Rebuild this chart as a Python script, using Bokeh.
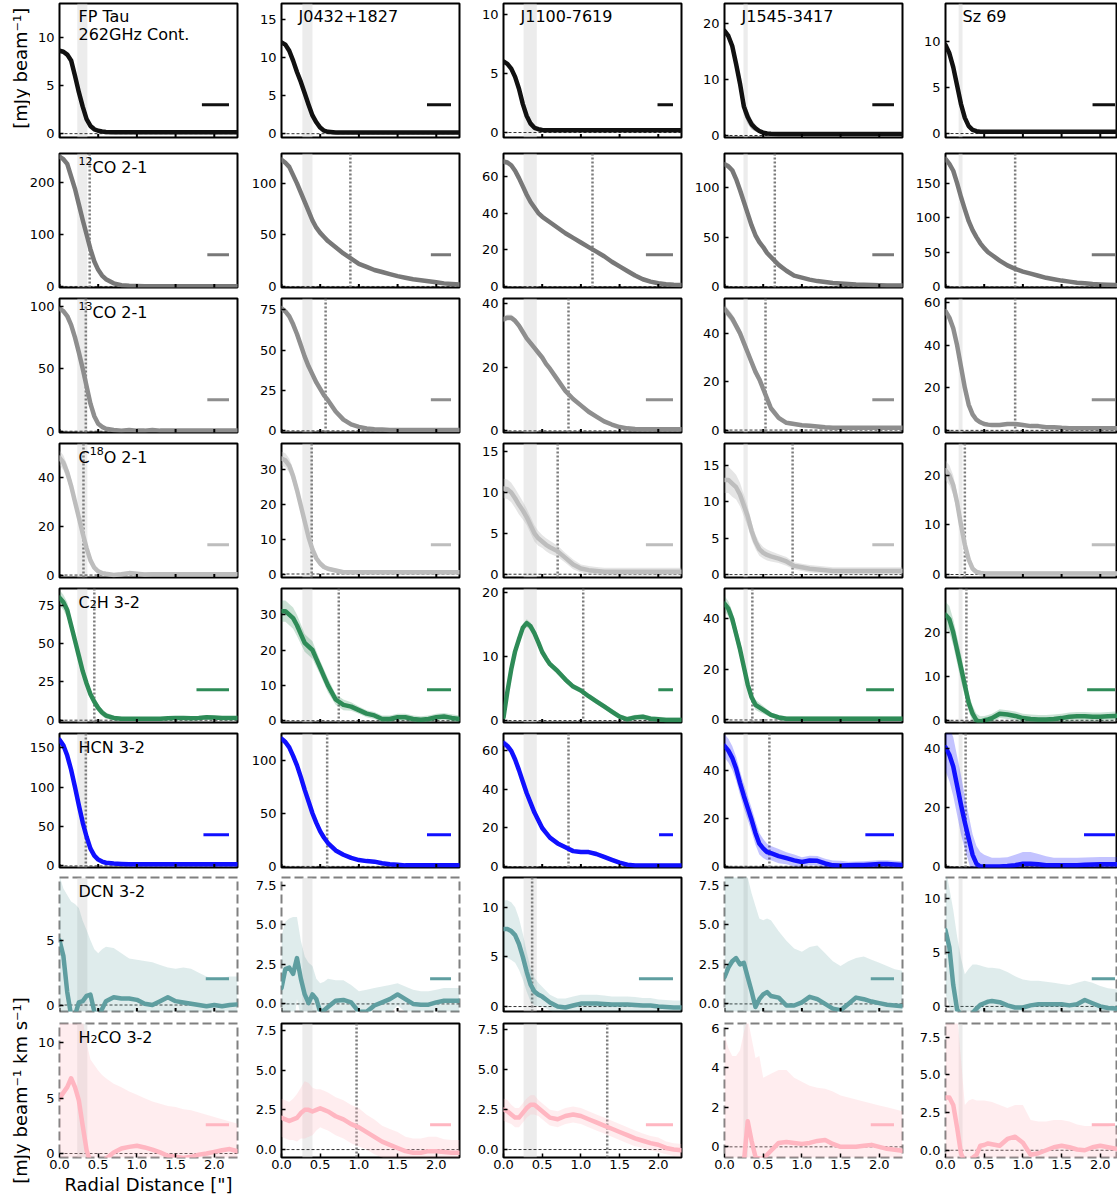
import math
from bokeh.plotting import figure
from bokeh.layouts import row, column
from bokeh.models import (Range1d, Label, Span, BoxAnnotation, FixedTicker,
                          PrintfTickFormatter)
from bokeh.embed import file_html
from bokeh.resources import INLINE

# ---------------- data ----------------
R = [0.0, 0.05, 0.1, 0.15, 0.2, 0.25, 0.3, 0.35, 0.4, 0.45, 0.5, 0.55, 0.6,
     0.7, 0.8, 0.9, 1.0, 1.1, 1.2, 1.3, 1.4, 1.5, 1.6, 1.7, 1.8, 1.9, 2.0, 2.1, 2.2, 2.3]
XTICKS = [0.0, 0.5, 1.0, 1.5, 2.0]

TARGETS = ["FP Tau", "J0432+1827", "J1100-7619", "J1545-3417", "Sz 69"]
# line names as (text, style) pieces: n = normal, sup = superscript, sub = subscript
LINES = [
    [("262GHz Cont.", "n")],
    [("12", "sup"), ("CO 2-1", "n")],
    [("13", "sup"), ("CO 2-1", "n")],
    [("C", "n"), ("18", "sup"), ("O 2-1", "n")],
    [("C", "n"), ("2", "sub"), ("H 3-2", "n")],
    [("HCN 3-2", "n")],
    [("DCN 3-2", "n")],
    [("H", "n"), ("2", "sub"), ("CO 3-2", "n")],
]

CONT_Y = [
    [8.6, 8.5, 8.2, 7.6, 6.0, 4.3, 2.8, 1.5, 0.8, 0.45, 0.3, 0.22, 0.18,
     0.15, 0.15, 0.15, 0.15, 0.15, 0.15, 0.15, 0.15, 0.15, 0.15, 0.15, 0.15, 0.15, 0.15, 0.15, 0.15, 0.15],
    [12.0, 11.7, 10.9, 9.6, 8.1, 6.8, 5.3, 3.8, 2.4, 1.5, 0.8, 0.4, 0.25,
     0.15, 0.15, 0.15, 0.15, 0.15, 0.15, 0.15, 0.15, 0.15, 0.15, 0.15, 0.15, 0.15, 0.15, 0.15, 0.15, 0.15],
    [6.0, 5.8, 5.4, 4.7, 3.7, 2.4, 1.4, 0.75, 0.4, 0.28, 0.22, 0.2, 0.2,
     0.2, 0.2, 0.2, 0.2, 0.2, 0.2, 0.2, 0.2, 0.2, 0.2, 0.2, 0.2, 0.2, 0.2, 0.2, 0.2, 0.2],
    [18.7, 17.8, 16.0, 12.8, 9.3, 5.2, 3.3, 2.0, 1.3, 0.8, 0.5, 0.35, 0.3,
     0.25, 0.25, 0.25, 0.25, 0.25, 0.25, 0.25, 0.25, 0.25, 0.25, 0.25, 0.25, 0.25, 0.25, 0.25, 0.25, 0.25],
    [9.6, 8.7, 7.2, 5.2, 3.2, 1.7, 0.8, 0.4, 0.25, 0.2, 0.2, 0.2, 0.2,
     0.2, 0.2, 0.2, 0.2, 0.2, 0.2, 0.2, 0.2, 0.2, 0.2, 0.2, 0.2, 0.2, 0.2, 0.2, 0.2, 0.2],
]
CONT_E = [
    [0.2, 0.2, 0.2, 0.3, 0.3, 0.3, 0.3, 0.2, 0.2, 0.1, 0.1, 0.05, 0.05,
     0.05, 0.05, 0.05, 0.05, 0.05, 0.05, 0.05, 0.05, 0.05, 0.05, 0.05, 0.05, 0.05, 0.05, 0.05, 0.05, 0.05],
    [0.2, 0.2, 0.2, 0.3, 0.3, 0.3, 0.3, 0.2, 0.2, 0.1, 0.1, 0.05, 0.05,
     0.05, 0.05, 0.05, 0.05, 0.05, 0.05, 0.05, 0.05, 0.05, 0.05, 0.05, 0.05, 0.05, 0.05, 0.05, 0.05, 0.05],
    [0.15, 0.15, 0.15, 0.2, 0.2, 0.2, 0.2, 0.1, 0.1, 0.05, 0.05, 0.05, 0.05,
     0.05, 0.05, 0.05, 0.05, 0.05, 0.05, 0.05, 0.05, 0.05, 0.05, 0.05, 0.05, 0.05, 0.05, 0.05, 0.05, 0.05],
    [0.6, 0.7, 0.9, 1.2, 1.5, 1.4, 1.2, 0.9, 0.6, 0.4, 0.3, 0.2, 0.1,
     0.05, 0.05, 0.05, 0.05, 0.05, 0.05, 0.05, 0.05, 0.05, 0.05, 0.05, 0.05, 0.05, 0.05, 0.05, 0.05, 0.05],
    [0.3, 0.3, 0.3, 0.35, 0.4, 0.35, 0.3, 0.2, 0.1, 0.05, 0.05, 0.05, 0.05,
     0.05, 0.05, 0.05, 0.05, 0.05, 0.05, 0.05, 0.05, 0.05, 0.05, 0.05, 0.05, 0.05, 0.05, 0.05, 0.05, 0.05],
]

CO12_Y = [
    [250, 245, 236, 212, 188, 158, 128, 100, 72, 48, 32, 21, 14,
     6, 2.5, 1.2, 0.8, 0.6, 0.5, 0.5, 0.5, 0.5, 0.5, 0.5, 0.5, 0.5, 0.5, 0.5, 0.5, 0.5],
    [123, 120, 116, 108, 100, 91, 82, 73, 64, 57, 52, 48, 44,
     38, 32, 27, 22, 19, 16, 14, 12, 10, 8.5, 7, 6, 5, 4, 3, 2.5, 2],
    [68, 67.5, 66, 63, 59, 54.5, 50, 46, 43, 40, 38, 36.5, 35,
     32, 29, 26.5, 24, 21.5, 19, 16.5, 13.5, 11, 8.5, 6, 4, 2.7, 1.8, 1.3, 1.0, 0.8],
    [124, 122, 118, 109, 98, 86, 74, 62, 52, 45, 40, 34, 30,
     22, 16, 11, 9, 7, 5.5, 4.5, 3.5, 3, 2.5, 2, 1.8, 1.5, 1.3, 1.1, 1, 1],
    [185, 178, 168, 150, 130, 112, 95, 82, 72, 63, 56, 50, 46,
     38, 31, 26, 22, 19, 16, 13, 11, 9, 7.5, 6, 5, 4, 3.5, 3, 2.5, 2],
]
CO12_E = [
    [4, 4, 4, 4, 4, 4, 4, 3, 3, 3, 3, 2, 2,
     2, 1, 1, 1, 1, 1, 1, 1, 1, 1, 1, 1, 1, 1, 1, 1, 1],
    [2, 2, 2, 2, 2, 2, 2, 2, 2, 2, 2, 2, 1.5,
     1.5, 1.5, 1.5, 1.5, 1.5, 1, 1, 1, 1, 1, 1, 1, 1, 1, 1, 1, 1],
    [1.5, 1.5, 1.5, 1.5, 1.5, 1.5, 1.5, 1.5, 1.5, 1.5, 1.5, 1.5, 1,
     1, 1, 1, 1, 1, 1, 1, 1, 1, 1, 1, 1, 1, 1, 1, 1, 1],
    [3, 3, 3, 3, 3, 3, 3, 3, 3, 3, 3, 3, 3,
     2, 2, 1.5, 1.5, 1.5, 1, 1, 1, 1, 1, 1, 1, 1, 1, 1, 1, 1],
    [3, 3, 3, 3, 3, 3, 3, 2, 2, 2, 2, 2, 2,
     2, 1.5, 1.5, 1.5, 1.5, 1, 1, 1, 1, 1, 1, 1, 1, 1, 1, 1, 1],
]

CO13_Y = [
    [98, 96, 92, 85, 75, 63, 50, 36, 22, 12, 6, 3.5, 2,
     1, 0.5, 1, 0.5, 0.5, 1, 0.5, 0.5, 0.5, 0.5, 0.5, 0.5, 0.5, 0.5, 0.5, 0.5, 0.5],
    [76, 74, 71, 66, 60, 53, 46, 40, 35, 30, 26, 22, 19,
     12, 7, 4, 2.5, 1.5, 1, 0.8, 0.6, 0.5, 0.5, 0.5, 0.5, 0.5, 0.5, 0.5, 0.5, 0.5],
    [35, 35.5, 35.5, 34.5, 33, 31, 29, 27.5, 26, 24.5, 23, 21, 19.5,
     16, 12.5, 10, 8, 6, 4.5, 3, 2, 1.2, 0.8, 0.6, 0.5, 0.5, 0.5, 0.5, 0.5, 0.5],
    [50, 48, 46, 43, 40, 36, 32, 28, 24, 21, 17, 13, 9,
     5, 3, 2.5, 2, 1.8, 1.5, 1.2, 1, 1, 1, 1, 1, 1, 1, 1, 1, 1],
    [56, 53, 48, 40, 30, 20, 12, 7.5, 5, 3.8, 3, 2.7, 2.5,
     2.5, 3, 3, 2.5, 2, 2, 1.5, 1.5, 1.2, 1, 1, 1, 1, 1, 1, 1, 1],
]
CO13_E = [
    [2, 2, 2, 2, 2, 2, 2, 2, 1.5, 1.2, 1, 0.8, 0.8,
     0.5, 0.5, 0.5, 0.5, 0.5, 0.5, 0.5, 0.5, 0.5, 0.5, 0.5, 0.5, 0.5, 0.5, 0.5, 0.5, 0.5],
    [1.5, 1.5, 1.5, 1.5, 1.5, 1.5, 1.5, 1.5, 1.2, 1.1, 1, 1, 1,
     0.8, 0.5, 0.5, 0.5, 0.5, 0.5, 0.5, 0.5, 0.5, 0.5, 0.5, 0.5, 0.5, 0.5, 0.5, 0.5, 0.5],
    [1, 1, 1, 1, 1, 1, 1, 1, 1, 1, 1, 1, 0.8,
     0.8, 0.8, 0.6, 0.6, 0.5, 0.5, 0.5, 0.5, 0.5, 0.5, 0.5, 0.5, 0.5, 0.5, 0.5, 0.5, 0.5],
    [2, 2, 2, 2, 2, 2, 2, 2, 2, 1.8, 1.5, 1.2, 1,
     1, 0.8, 0.8, 0.5, 0.5, 0.5, 0.5, 0.5, 0.5, 0.5, 0.5, 0.5, 0.5, 0.5, 0.5, 0.5, 0.5],
    [2, 2, 2, 2, 2, 1.8, 1.5, 1.2, 1, 1, 1, 0.9, 0.8,
     0.8, 0.8, 0.8, 0.8, 0.6, 0.6, 0.6, 0.6, 0.6, 0.6, 0.6, 0.6, 0.6, 0.6, 0.6, 0.6, 0.6],
]

C18O_Y = [
    [48, 46, 42, 36.5, 30, 23.5, 17, 11, 6, 3, 1.5, 0.8, 0.5,
     0, 0.3, 0.8, 0.5, 0.2, 0.3, 0.3, 0.3, 0.3, 0.3, 0.3, 0.3, 0.3, 0.3, 0.3, 0.3, 0.3],
    [33, 32.5, 31, 28, 24, 19.5, 15, 10.5, 7, 4.5, 3, 2, 1.5,
     1, 0.5, 0.5, 0.5, 0.5, 0.5, 0.5, 0.5, 0.5, 0.5, 0.5, 0.5, 0.5, 0.5, 0.5, 0.5, 0.5],
    [10.5, 10.4, 10, 9.3, 8.5, 7.8, 7, 6, 5, 4.4, 4, 3.6, 3.3,
     2.8, 2, 1.2, 0.7, 0.5, 0.4, 0.3, 0.3, 0.3, 0.3, 0.3, 0.3, 0.3, 0.3, 0.3, 0.3, 0.3],
    [13, 13, 12.5, 12, 11, 9.5, 8, 6, 4.5, 3.5, 3, 2.7, 2.5,
     2.2, 1.8, 1.2, 1, 0.8, 0.7, 0.6, 0.5, 0.5, 0.5, 0.5, 0.5, 0.5, 0.5, 0.5, 0.5, 0.5],
    [21, 20, 18, 14.5, 10, 6, 3, 1.2, 0.5, 0.3, 0.2, 0.2, 0.2,
     0.2, 0.2, 0.2, 0.2, 0.2, 0.2, 0.2, 0.2, 0.2, 0.2, 0.2, 0.2, 0.2, 0.2, 0.2, 0.2, 0.2],
]
C18O_E = [
    [3, 3, 3, 2.8, 2.5, 2.2, 2, 1.8, 1.5, 1.2, 1, 0.9, 0.8,
     0.8, 0.8, 0.8, 0.8, 0.8, 0.8, 0.8, 0.8, 0.8, 0.8, 0.8, 0.8, 0.8, 0.8, 0.8, 0.8, 0.8],
    [2, 2, 2, 2, 2, 1.8, 1.5, 1.2, 1, 0.9, 0.8, 0.7, 0.6,
     0.6, 0.6, 0.6, 0.6, 0.6, 0.6, 0.6, 0.6, 0.6, 0.6, 0.6, 0.6, 0.6, 0.6, 0.6, 0.6, 0.6],
    [1.2, 1.2, 1.2, 1.2, 1.2, 1.1, 1, 1, 1, 0.9, 0.8, 0.8, 0.8,
     0.7, 0.6, 0.6, 0.5, 0.5, 0.5, 0.5, 0.5, 0.5, 0.5, 0.5, 0.5, 0.5, 0.5, 0.5, 0.5, 0.5],
    [1.8, 1.8, 1.8, 1.7, 1.6, 1.5, 1.4, 1.2, 1, 0.9, 0.8, 0.75, 0.7,
     0.6, 0.6, 0.5, 0.5, 0.5, 0.5, 0.5, 0.5, 0.5, 0.5, 0.5, 0.5, 0.5, 0.5, 0.5, 0.5, 0.5],
    [2, 2, 2, 1.8, 1.5, 1.2, 1, 0.7, 0.5, 0.45, 0.4, 0.4, 0.4,
     0.4, 0.4, 0.4, 0.4, 0.4, 0.4, 0.4, 0.4, 0.4, 0.4, 0.4, 0.4, 0.4, 0.4, 0.4, 0.4, 0.4],
]

C2H_Y = [
    [80, 77, 72, 62, 52, 42, 32, 24, 17, 12, 8, 5, 3,
     1.5, 1, 1, 1, 1, 1, 1, 1.2, 1.5, 1.5, 1.2, 1.5, 2, 1.8, 1.5, 1.5, 1.5],
    [31, 31, 30, 29, 27, 24.5, 22, 21, 20, 17.5, 15, 12.5, 10,
     6, 4.5, 4, 3, 2, 1.5, 0.5, 0.5, 1, 1, 0.5, 0.3, 0.5, 1, 1.2, 0.8, 0.5],
    [0.5, 4.5, 8.0, 10.8, 12.7, 14.5, 15.2, 14.7, 13.6, 12.2, 10.7, 9.7, 8.8,
     7.7, 6.4, 5.3, 4.7, 3.8, 3.0, 2.2, 1.4, 0.6, 0.2, 0.5, 0.6, 0.3, 0.2, 0.1, 0.1, 0.1],
    [46, 44, 40, 34, 28, 21, 14, 9, 6, 5, 4, 3, 2,
     1, 0.5, 0.5, 0.5, 0.5, 0.5, 0.5, 0.5, 0.5, 0.5, 0.5, 0.5, 0.5, 0.5, 0.5, 0.5, 0.5],
    [24, 23, 20, 16, 12, 8, 4, 1.5, 0, -0.3, 0, 0.2, 0.5,
     1.5, 1.3, 1, 0.5, 0.3, 0.2, 0.2, 0.3, 0.5, 0.8, 0.9, 0.9, 0.8, 0.8, 0.9, 1.0, 1.1],
]
C2H_E = [
    [5, 5, 5, 4.5, 4, 3.5, 3, 3, 3, 2.8, 2.5, 2.2, 2,
     1.5, 1.2, 1, 1, 1, 1, 1, 1, 1, 1, 1, 1, 1, 1, 1, 1, 1],
    [3, 3, 3, 3, 3, 2.8, 2.5, 2.5, 2.5, 2.2, 2, 2, 2,
     1.5, 1.5, 1.2, 1, 1, 1, 1, 1, 1, 1, 1, 1, 1, 1, 1, 1, 1],
    [0.6, 0.6, 0.6, 0.6, 0.6, 0.6, 0.6, 0.6, 0.5, 0.5, 0.5, 0.5, 0.5,
     0.5, 0.5, 0.4, 0.4, 0.4, 0.4, 0.4, 0.4, 0.4, 0.4, 0.4, 0.4, 0.4, 0.4, 0.4, 0.4, 0.4],
    [3, 3, 3, 3, 3, 2.5, 2, 2, 2, 1.8, 1.5, 1.2, 1,
     1, 1, 1, 1, 1, 1, 1, 1, 1, 1, 1, 1, 1, 1, 1, 1, 1],
    [3, 3, 3, 3, 3, 2.5, 2, 1.8, 1.5, 1.2, 1, 1, 1,
     1, 1, 1, 1, 1, 1, 1, 1, 1, 1, 1, 1, 1, 1, 1, 1, 1],
]

HCN_Y = [
    [160, 153, 140, 122, 100, 77, 55, 37, 22, 13, 8, 5.5, 4,
     3, 2.5, 2, 2, 2, 2, 2, 2, 2, 2, 2, 2, 2, 2, 2, 2, 2],
    [120, 117, 112, 104, 95, 84, 72, 61, 50, 41, 33, 27, 22,
     15, 11, 8, 6, 5, 4.5, 3, 2, 1.5, 1, 1, 1, 1, 1, 1, 1, 1],
    [64, 62.5, 60, 55.5, 50, 44, 38, 33, 28, 24, 20, 17.5, 15,
     12, 10, 8, 7.5, 7.5, 6.5, 5, 3.5, 2, 1, 0.5, 0.5, 0.5, 0.5, 0.5, 0.5, 0.5],
    [50.5, 48.5, 45.5, 41, 35, 29.5, 24.5, 19.5, 14, 9.5, 7.5, 6, 5.5,
     4.3, 3.4, 2.5, 1.8, 2.4, 2.3, 1.2, 0.4, 0.3, 0.4, 0.5, 0.6, 0.8, 1.0, 1.0, 0.8, 0.6],
    [40.5, 38, 34, 27.5, 21, 15, 9.5, 4, 1, 0, 0, 0, 0,
     0, 0.2, 0.5, 1, 1, 0.8, 0.5, 0.5, 0.5, 0.5, 0.5, 0.6, 0.7, 0.8, 0.8, 0.8, 0.8],
]
HCN_E = [
    [5, 5, 5, 4.5, 4, 3.5, 3, 2.5, 2, 1.8, 1.5, 1.2, 1,
     1, 1, 1, 1, 1, 1, 1, 1, 1, 1, 1, 1, 1, 1, 1, 1, 1],
    [3, 3, 3, 3, 3, 3, 3, 2.8, 2.5, 2.2, 2, 1.8, 1.5,
     1.5, 1, 1, 1, 1, 1, 1, 1, 1, 1, 1, 1, 1, 1, 1, 1, 1],
    [2, 2, 2, 2, 2, 2, 2, 1.8, 1.5, 1.5, 1.5, 1.3, 1.2,
     1.2, 1, 1, 1, 1, 1, 1, 1, 1, 1, 1, 1, 1, 1, 1, 1, 1],
    [5, 5, 5, 5, 5, 5, 5, 5, 5, 4.5, 4, 3.5, 3,
     3, 2.5, 2.5, 2, 2, 2, 2, 2, 2, 1.5, 1.5, 1.5, 1.5, 1.5, 1.5, 1.5, 1.5],
    [8, 9, 10, 10, 10, 9, 8, 7, 6, 5, 4, 3.5, 3,
     3, 3, 3.5, 4, 4, 3.5, 3, 2.5, 2.5, 2.5, 2.5, 2.5, 2.5, 2.5, 2.5, 2.5, 2.5],
]

DCN_Y = [
    [5.0, 3.8, 1.0, -0.8, -0.8, 0.2, 0.3, 0.7, 0.8, -0.5, -1.0, -0.3, 0.3,
     0.6, 0.5, 0.5, 0.4, 0.1, 0.0, 0.3, 0.6, 0.3, 0.2, 0.1, 0.0, -0.1, 0.0, -0.1, 0.0, 0.05],
    [1.0, 2.2, 2.3, 1.9, 2.9, 1.6, 0.6, 0.05, 0.6, 0.3, -0.5, -0.4, -0.2,
     0.2, 0.25, 0.1, -0.5, -0.5, -0.1, 0.1, 0.3, 0.6, 0.3, 0.0, -0.05, -0.05, 0.1, 0.2, 0.2, 0.2],
    [7.8, 7.8, 7.6, 7.2, 6.3, 5.0, 3.5, 2.2, 1.5, 1.2, 1.0, 0.7, 0.4,
     0.0, -0.1, 0.1, 0.3, 0.3, 0.3, 0.25, 0.2, 0.2, 0.2, 0.15, 0.1, 0.1, 0.0, -0.05, -0.1, -0.1],
    [1.7, 2.3, 2.7, 2.9, 2.5, 2.6, 1.7, 0.8, -0.2, 0.3, 0.6, 0.75, 0.5,
     0.4, -0.1, -0.1, 0.1, 0.45, 0.3, 0.0, -0.3, -0.4, 0.0, 0.4, 0.3, 0.15, 0.05, -0.05, -0.1, -0.15],
    [7.1, 5.5, 2.0, -0.3, -0.8, -1.0, -1.0, -0.6, -0.2, 0.15, 0.3, 0.45, 0.5,
     0.4, 0.1, -0.1, -0.1, 0.1, 0.2, 0.2, 0.2, 0.2, 0.1, 0.2, 0.6, 0.3, 0.0, -0.15, -0.2, -0.2],
]
DCN_E = [
    [5.0, 5.2, 7.5, 8.8, 8.6, 7.3, 6.2, 5.1, 4.2, 4.8, 5.0, 4.6, 4.2,
     3.8, 3.5, 3.1, 3.1, 3.3, 3.3, 2.8, 2.3, 2.5, 2.7, 2.7, 2.5, 2.3, 2.0, 2.2, 2.2, 2.15],
    [3.3, 3.0, 3.1, 3.6, 2.6, 2.4, 2.4, 2.55, 1.8, 1.3, 1.8, 1.8, 1.8,
     1.3, 1.25, 1.1, 1.3, 1.4, 1.1, 1.0, 0.9, 0.7, 0.8, 0.9, 0.85, 0.85, 0.8, 0.8, 0.8, 0.8],
    [2.9, 2.9, 2.9, 2.8, 2.6, 2.3, 2.0, 1.7, 1.4, 1.2, 1.0, 0.9, 0.8,
     0.8, 0.9, 0.9, 0.9, 0.9, 0.9, 0.85, 0.8, 0.8, 0.8, 0.8, 0.75, 0.75, 0.7, 0.7, 0.7, 0.7],
    [7.3, 6.7, 6.3, 6.1, 6.5, 6.4, 6.3, 6.2, 6.4, 5.1, 4.7, 4.65, 4.8,
     4.2, 4.1, 3.6, 3.2, 3.15, 3.4, 3.2, 3.0, 2.8, 2.7, 2.5, 2.7, 2.65, 2.55, 2.45, 2.3, 2.25],
    [5.9, 5.5, 7.0, 6.8, 5.3, 4.0, 4.5, 4.5, 4.1, 3.65, 3.4, 3.15, 3.1,
     3.1, 3.1, 2.9, 2.6, 2.3, 2.2, 2.1, 2.0, 1.9, 1.9, 2.0, 1.8, 1.9, 1.9, 1.85, 1.8, 1.7],
]

H2CO_Y = [
    [5.0, 5.5, 6.0, 6.8, 6.0, 4.8, 2.5, 0.3, -0.8, -1.0, -1.0, -0.8, -0.5,
     0.1, 0.45, 0.6, 0.7, 0.55, 0.35, 0.1, -0.2, -0.3, -0.4, -0.3, -0.1, 0.0, 0.15, 0.3, 0.4, 0.2],
    [2.0, 1.9, 1.8, 1.9, 2.0, 2.3, 2.5, 2.5, 2.4, 2.5, 2.6, 2.5, 2.4,
     2.1, 1.9, 1.6, 1.4, 1.1, 0.8, 0.5, 0.3, 0.1, -0.1, -0.2, -0.2, -0.1, -0.1, -0.15, -0.2, -0.2],
    [2.5, 2.4, 2.2, 2.0, 2.0, 2.3, 2.6, 2.8, 2.8, 2.6, 2.4, 2.2, 2.0,
     1.9, 2.1, 2.2, 2.1, 1.9, 1.7, 1.5, 1.3, 1.1, 0.9, 0.7, 0.55, 0.4, 0.3, 0.1, 0.0, -0.05],
    [-1.5, -1.5, -1.5, -1.3, -1.0, -0.8, 1.3, 0.3, -0.5, -0.6, -0.6, -0.4, -0.2,
     0.2, 0.25, 0.2, 0.15, 0.2, 0.3, 0.35, 0.15, 0.0, 0.0, 0.0, 0.05, 0.1, 0.0, -0.1, -0.15, -0.2],
    [3.5, 3.5, 3.0, 1.5, -0.2, -0.8, -0.8, -0.5, -0.3, 0.3, 0.35, 0.45, 0.4,
     0.3, 0.75, 0.9, 0.5, -0.3, -0.2, 0.0, 0.2, 0.3, 0.2, 0.05, 0.0, 0.2, 0.3, 0.2, 0.1, 0.05],
]
H2CO_E = [
    [9.0, 8.5, 8.0, 7.2, 8.0, 9.2, 9.5, 9.7, 9.3, 9.0, 8.5, 7.9, 7.3,
     6.2, 5.55, 5.0, 4.6, 4.45, 4.35, 4.4, 4.5, 4.5, 4.4, 4.2, 3.8, 3.5, 3.15, 2.8, 2.5, 2.5],
    [1.2, 1.2, 1.2, 1.3, 1.5, 1.6, 1.8, 1.7, 1.5, 1.3, 1.2, 1.2, 1.2,
     1.2, 1.2, 1.2, 1.2, 1.1, 1.1, 1.0, 1.0, 1.0, 0.9, 0.9, 0.9, 0.9, 0.9, 0.8, 0.8, 0.8],
    [0.7, 0.7, 0.6, 0.6, 0.6, 0.6, 0.6, 0.6, 0.6, 0.5, 0.5, 0.5, 0.5,
     0.5, 0.5, 0.5, 0.5, 0.5, 0.5, 0.5, 0.5, 0.5, 0.5, 0.5, 0.45, 0.45, 0.45, 0.4, 0.4, 0.4],
    [7.2, 6.5, 6.1, 5.9, 5.9, 6.6, 5.2, 5.2, 5.0, 5.2, 4.1, 4.0, 3.9,
     3.7, 3.65, 3.3, 3.15, 2.9, 2.7, 2.6, 2.65, 2.6, 2.5, 2.4, 2.25, 2.1, 2.1, 2.1, 2.05, 2.0],
    [10.5, 9.5, 9.0, 7.5, 6.2, 3.8, 4.1, 3.9, 3.6, 3.0, 2.95, 2.8, 2.8,
     2.7, 2.05, 2.1, 2.5, 2.3, 2.1, 1.9, 1.8, 1.7, 1.7, 1.65, 1.6, 1.4, 1.4, 1.4, 1.4, 1.35],
]

# y limits and y ticks per row (5 targets each)
YLIM = [
    [(-0.4, 13.5), (-0.5, 17.1), (-0.42, 10.9), (-0.36, 23.6), (-0.43, 14.1)],
    [(-2, 256), (-1, 129), (-0.5, 72.4), (-1, 135), (-1, 193)],
    [(-1, 106), (-1, 82), (-0.5, 41.5), (-1, 54.3), (-1, 62)],
    [(-1, 53.8), (-1, 37.3), (-0.4, 16), (-0.4, 18), (-0.6, 26.4)],
    [(-1.5, 86), (-0.5, 37.4), (-0.3, 20.6), (-1, 52), (-0.5, 30)],
    [(-2, 168), (-1, 125), (-0.5, 69), (-0.5, 55.7), (-0.3, 45.2)],
    [(-0.5, 9.85), (-0.48, 8.0), (-0.5, 13), (-0.48, 8.0), (-0.47, 12)],
    [(-0.36, 11.75), (-0.5, 7.94), (-0.5, 7.9), (-0.54, 6.25), (-0.48, 8.4)],
]
YTICKS = [
    [[0, 5, 10], [0, 5, 10, 15], [0, 5, 10], [0, 10, 20], [0, 5, 10]],
    [[0, 100, 200], [0, 50, 100], [0, 20, 40, 60], [0, 50, 100], [0, 50, 100, 150]],
    [[0, 50, 100], [0, 25, 50, 75], [0, 20, 40], [0, 20, 40], [0, 20, 40, 60]],
    [[0, 20, 40], [0, 10, 20, 30], [0, 5, 10, 15], [0, 5, 10, 15], [0, 10, 20]],
    [[0, 25, 50, 75], [0, 10, 20, 30], [0, 10, 20], [0, 20, 40], [0, 10, 20]],
    [[0, 50, 100, 150], [0, 50, 100], [0, 20, 40, 60], [0, 20, 40], [0, 20, 40]],
    [[0, 5], [0.0, 2.5, 5.0, 7.5], [0, 5, 10], [0.0, 2.5, 5.0, 7.5], [0, 5, 10]],
    [[0, 5, 10], [0.0, 2.5, 5.0, 7.5], [0.0, 2.5, 5.0, 7.5], [0, 2, 4, 6], [0.0, 2.5, 5.0, 7.5]],
]

# beam shading per target (radius range)
BEAM = [(0.23, 0.36), (0.27, 0.40), (0.26, 0.43), (0.245, 0.30), (0.17, 0.22)]
# dotted vertical marker per row/target (None = absent)
DOTS = [
    [None, None, None, None, None],
    [0.39, 0.89, 1.15, 0.65, 0.90],
    [0.34, 0.57, 0.84, 0.53, 0.90],
    [0.31, 0.39, 0.70, 0.88, 0.25],
    [0.45, 0.74, 1.03, 0.36, 0.27],
    [0.34, 0.59, 0.84, 0.58, 0.26],
    [None, None, 0.37, None, None],
    [None, 0.97, 1.34, None, None],
]
# horizontal bar length per row/target
BAR_W = [
    [0.35, 0.31, 0.20, 0.28, 0.29],
    [0.28, 0.26, 0.35, 0.28, 0.30],
    [0.28, 0.26, 0.35, 0.28, 0.30],
    [0.28, 0.26, 0.35, 0.28, 0.30],
    [0.42, 0.31, 0.19, 0.36, 0.36],
    [0.33, 0.31, 0.18, 0.37, 0.40],
    [0.30, 0.27, 0.44, 0.30, 0.30],
    [0.30, 0.27, 0.35, 0.30, 0.30],
]
DASHED = [
    [0, 0, 0, 0, 0], [0, 0, 0, 0, 0], [0, 0, 0, 0, 0], [0, 0, 0, 0, 0],
    [0, 0, 0, 0, 0], [0, 0, 0, 0, 0], [1, 1, 0, 1, 1], [1, 0, 0, 1, 1],
]

ROW_DATA = [(CONT_Y, CONT_E), (CO12_Y, CO12_E), (CO13_Y, CO13_E), (C18O_Y, C18O_E),
            (C2H_Y, C2H_E), (HCN_Y, HCN_E), (DCN_Y, DCN_E), (H2CO_Y, H2CO_E)]
COLORS = ["#111111", "#787878", "#8e8e8e", "#bdbdbd", "#2e8b57", "#1010ff",
          "#5f9ea0", "#ffb6c1"]
BAND_ALPHA = [0.25, 0.25, 0.25, 0.4, 0.25, 0.25, 0.2, 0.25]

# ---------------- styling / layout ----------------
FONT = "DejaVu Sans"
FRAME_H = 134
TOP_B = [3, 8, 4, 4, 4, 4, 2, 4]
BOT_B = [8, 7, 7, 7, 7, 8, 8, 40]
COL_LEFT = [59, 41, 41, 40, 40]
COL_RIGHT = [3, 3, 3, 3, 0]
COL_FW = [178, 178, 178, 178, 172]
STRIP_W = 30
BAR_END = 2.19
BAR_FRAC = 0.245
MAIN_PX = 16
SCRIPT_PX = 11
# DejaVu Sans advance widths (em) for the characters preceding a script piece
ADV = {"C": 0.698, "H": 0.752, "0": 0.636, "1": 0.636, "2": 0.636, "3": 0.636,
       "8": 0.636}


def piece_width(text, px):
    return sum(ADV.get(ch, 0.6) for ch in text) * px


def add_line_label(p, pieces, x0, top):
    x = x0
    for text, kind in pieces:
        if kind == "n":
            px, y = MAIN_PX, FRAME_H - top
        elif kind == "sup":
            px, y = SCRIPT_PX, FRAME_H - (top - 1.5)
        else:
            px, y = SCRIPT_PX, FRAME_H - (top + 6.5)
        p.add_layout(Label(x=x, y=y, x_units="screen", y_units="screen",
                           text=text, text_baseline="top", text_font=FONT,
                           text_font_size=f"{px}px", text_color="black"))
        x += piece_width(text, px)


def make_panel(ri, ci):
    fw = COL_FW[ci]
    xmax = 2.3 * fw / 178.0
    left = COL_LEFT[ci]
    if ci == 0 and ri in (0, 6, 7):
        left -= STRIP_W
    right = COL_RIGHT[ci]
    top = TOP_B[ri]
    bottom = BOT_B[ri]
    ymin, ymax = YLIM[ri][ci]
    p = figure(width=left + fw + right, height=top + FRAME_H + bottom,
               x_range=Range1d(0, xmax), y_range=Range1d(ymin, ymax),
               output_backend="svg", toolbar_location=None,
               x_axis_location="below" if ri == 7 else None,
               min_border_left=left, min_border_right=right,
               min_border_top=top, min_border_bottom=bottom)
    p.grid.visible = False
    p.background_fill_color = "white"
    p.border_fill_color = "white"
    dashed = DASHED[ri][ci]
    p.outline_line_color = "#808080" if dashed else "black"
    p.outline_line_width = 2
    p.outline_line_alpha = 1.0
    if dashed:
        p.outline_line_dash = "9 4"

    ticks = YTICKS[ri][ci]
    frac = any(abs(t - round(t)) > 1e-9 for t in ticks)
    ya = p.yaxis[0]
    ya.ticker = FixedTicker(ticks=ticks)
    ya.formatter = PrintfTickFormatter(format="%.1f" if frac else "%d")
    ya.major_tick_in = 4
    ya.major_tick_out = 0
    ya.major_tick_line_width = 1.5
    ya.minor_tick_line_color = None
    ya.axis_line_color = None
    ya.major_label_text_font = FONT
    ya.major_label_text_font_size = "13px"
    ya.major_label_text_color = "black"
    ya.major_label_standoff = 5

    if ri == 7:
        xa = p.xaxis[0]
        xa.ticker = FixedTicker(ticks=XTICKS)
        xa.formatter = PrintfTickFormatter(format="%.1f")
        xa.major_tick_in = 4
        xa.major_tick_out = 0
        xa.major_tick_line_width = 1.5
        xa.minor_tick_line_color = None
        xa.axis_line_color = None
        xa.major_label_text_font = FONT
        xa.major_label_text_font_size = "13px"
        xa.major_label_text_color = "black"
        xa.major_label_standoff = 2
        if ci == 0:
            xa.axis_label = 'Radial Distance ["]'
            xa.axis_label_text_font = FONT
            xa.axis_label_text_font_size = "18px"
            xa.axis_label_text_font_style = "normal"
            xa.axis_label_text_color = "black"
            xa.axis_label_standoff = 2

    # beam shading
    b0, b1 = BEAM[ci]
    p.add_layout(BoxAnnotation(left=b0, right=b1, fill_color="#d9d9d9",
                               fill_alpha=0.5, line_color=None, level="underlay"))
    # zero line
    p.add_layout(Span(location=0, dimension="width", line_color="#333333",
                      line_dash="3 2", line_width=1, level="underlay"))
    # dotted marker
    d = DOTS[ri][ci]
    if d is not None:
        p.add_layout(Span(location=d, dimension="height", line_color="#7a7a7a",
                          line_dash="2 2", line_width=2.5, level="underlay"))

    ys, es = ROW_DATA[ri]
    y = ys[ci]
    e = es[ci]
    n = min(len(R), len(y), len(e))
    xs = R[:n]
    lo = [y[i] - e[i] for i in range(n)]
    hi = [y[i] + e[i] for i in range(n)]
    col = COLORS[ri]
    p.varea(x=xs, y1=lo, y2=hi, fill_color=col, fill_alpha=BAND_ALPHA[ri])
    p.line(x=xs, y=y[:n], line_color=col, line_width=4.5, line_join="round",
           line_cap="round")

    # beam-size bar
    yb = ymin + BAR_FRAC * (ymax - ymin)
    w = BAR_W[ri][ci]
    p.segment(x0=[BAR_END - w], y0=[yb], x1=[BAR_END], y1=[yb],
              line_color=col, line_width=3)

    # inward bottom ticks for rows without x axis
    if ri != 7:
        p.scatter(x=XTICKS, y=[ymin] * len(XTICKS), marker="dash",
                  angle=math.pi / 2, size=7, line_color="black", line_width=2)

    # panel labels
    lx = 19 if ci == 0 else 17
    if ri == 0:
        p.add_layout(Label(x=lx, y=FRAME_H - 3, x_units="screen", y_units="screen",
                           text=TARGETS[ci], text_baseline="top",
                           text_font=FONT, text_font_size="16px", text_color="black"))
        if ci == 0:
            add_line_label(p, LINES[0], lx, 21)
    elif ci == 0:
        add_line_label(p, LINES[ri], lx, 4.5)
    return p


def make_strip(h, text, cy_from_top):
    s = figure(width=STRIP_W, height=h, x_range=Range1d(0, STRIP_W), y_range=Range1d(0, h),
               output_backend="svg", toolbar_location=None,
               x_axis_location=None, y_axis_location=None,
               min_border_left=0, min_border_right=0, min_border_top=0,
               min_border_bottom=0)
    s.outline_line_color = None
    s.grid.visible = False
    s.background_fill_color = "white"
    s.border_fill_color = "white"
    s.add_layout(Label(x=20, y=h - cy_from_top, text=text, angle=90,
                       angle_units="deg", text_align="center",
                       text_baseline="middle", text_font=FONT,
                       text_font_size="18px", text_color="black"))
    return s


panels = [[make_panel(ri, ci) for ci in range(5)] for ri in range(8)]

h0 = TOP_B[0] + FRAME_H + BOT_B[0]
h6 = TOP_B[6] + FRAME_H + BOT_B[6]
h7 = TOP_B[7] + FRAME_H + BOT_B[7]
strip_top = make_strip(h0, "[mJy beam⁻¹]", TOP_B[0] + FRAME_H / 2)
strip_bot = make_strip(h6 + h7, "[mJy beam⁻¹ km s⁻¹]", h6 + TOP_B[7] + FRAME_H / 2)

layout = column(
    row(strip_top, *panels[0]),
    *[row(*panels[ri]) for ri in range(1, 6)],
    row(strip_bot, column(row(*panels[6]), row(*panels[7]))),
)

open("out.html", "w").write(file_html(layout, INLINE, "Radial profiles"))
